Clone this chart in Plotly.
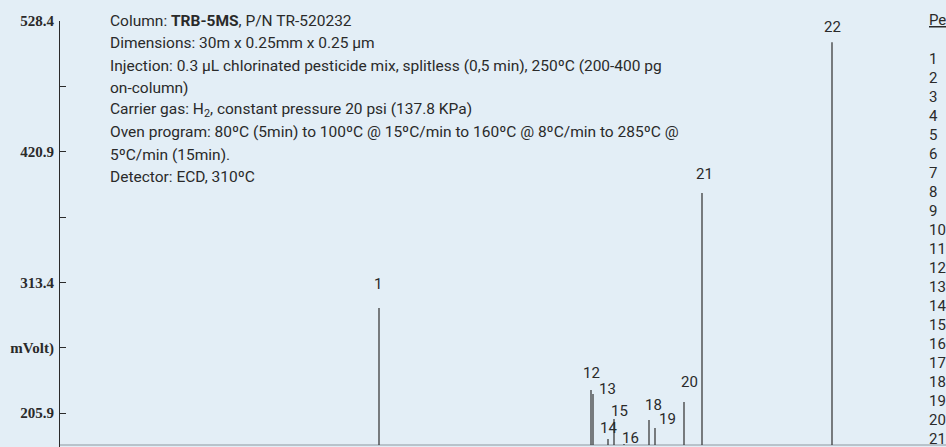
import plotly.graph_objects as go

# ---------------- data ----------------
peak_ids = ["1", "12", "13", "14", "15", "16", "18", "19", "20", "21", "22"]
peak_times = [15.95, 26.55, 26.65, 27.40, 27.70, 28.20, 29.45, 29.75, 31.20, 32.10, 38.60]  # min
peak_heights = [292.3, 224.8, 221.5, 184.5, 201.0, 180.4, 200.1, 193.6, 214.9, 386.9, 511.1]  # mVolt
baseline_level = 179.6
time_range = [0.0, 44.3]

ytick_vals = [528.4, 474.65, 420.9, 367.15, 313.4, 259.65, 205.9]
ytick_text = ["528.4", "", "420.9", "", "313.4", "mVolt)", "205.9"]

info_lines = [
    "Column: <b>TRB-5MS</b>, P/N TR-520232",
    "Dimensions: 30m x 0.25mm x 0.25 µm",
    "Injection: 0.3 µL chlorinated pesticide mix, splitless (0,5 min), 250ºC (200-400 pg",
    "on-column)",
    "Carrier gas: H<sub>2</sub>, constant pressure 20 psi (137.8 KPa)",
    "Oven program: 80ºC (5min) to 100ºC @ 15ºC/min to 160ºC @ 8ºC/min to 285ºC @",
    "5ºC/min (15min).",
    "Detector: ECD, 310ºC",
]
peak_list_title = "Peaks"
peak_list = [str(i) for i in range(1, 23)]

# ---------------- layout constants ----------------
W, H = 946, 447
ML, MT = 60, 21
PW, PH = W - ML, H - MT
# label offsets (px) for peak numbers, relative to peak apex
label_offsets = {
    "1": (-1, -24), "12": (0, -17), "13": (14, -5), "14": (0, -11), "15": (5, -8),
    "16": (6, -6), "18": (4, -15), "19": (12, -9), "20": (5, -20), "21": (2, -19), "22": (0, -15),
}

def px_x(px):
    return (px - ML) / PW

def px_y(py):
    return (H - py) / PH

ink = "#2a2a2a"
bg = "#e3eef6"
txt_font = "Roboto, Arial, sans-serif"

fig = go.Figure()

# baseline
fig.add_trace(go.Scatter(
    x=time_range, y=[baseline_level, baseline_level], mode="lines",
    line=dict(color="#aab4bd", width=1.5), hoverinfo="skip", showlegend=False))

# peaks as thin vertical spikes
xs, ys = [], []
for t, h in zip(peak_times, peak_heights):
    xs += [t, t, None]
    ys += [baseline_level, h, None]
fig.add_trace(go.Scatter(x=xs, y=ys, mode="lines",
                         line=dict(color="#2e2e2e", width=1.2),
                         hoverinfo="skip", showlegend=False))

annotations = []
for pid, t, h in zip(peak_ids, peak_times, peak_heights):
    dx, dy = label_offsets[pid]
    annotations.append(dict(x=t, y=h, xref="x", yref="y", text=pid, showarrow=False,
                            xshift=dx, yshift=-dy, xanchor="center", yanchor="middle",
                            font=dict(family=txt_font, size=15, color=ink)))

# info text block
for i, line in enumerate(info_lines):
    annotations.append(dict(x=px_x(108), y=px_y(21 + i * 22.3), xref="paper", yref="paper",
                            text=line, showarrow=False, xanchor="left", yanchor="middle",
                            font=dict(family=txt_font, size=15.5, color=ink)))

# peak list at right (cropped by the window edge)
annotations.append(dict(x=px_x(927), y=px_y(20), xref="paper", yref="paper",
                        text="<u>" + peak_list_title + "</u>", showarrow=False,
                        xanchor="left", yanchor="middle",
                        font=dict(family=txt_font, size=15, color=ink)))
for i, p in enumerate(peak_list):
    annotations.append(dict(x=px_x(927), y=px_y(59 + i * 19), xref="paper", yref="paper",
                            text=p, showarrow=False, xanchor="left", yanchor="middle",
                            font=dict(family=txt_font, size=15, color=ink)))

fig.update_layout(
    width=W, height=H,
    margin=dict(l=ML, r=0, t=MT, b=0, pad=0),
    paper_bgcolor=bg, plot_bgcolor=bg,
    annotations=annotations,
    xaxis=dict(range=time_range, visible=False, showgrid=False, zeroline=False),
    yaxis=dict(range=[177.93, 528.5], showgrid=False, zeroline=False,
               showline=True, linecolor=ink, linewidth=1.2,
               tickmode="array", tickvals=ytick_vals, ticktext=ytick_text,
               ticks="inside", ticklen=6, tickwidth=1.2, tickcolor=ink,
               tickfont=dict(family="Liberation Serif, Times New Roman, serif", size=15,
                             color=ink, weight="bold"),
               ticklabelstandoff=2),
)

fig.write_html("out.html", config={"displayModeBar": False},
               post_script="document.body.style.margin='0';document.body.style.background='%s';" % bg)
